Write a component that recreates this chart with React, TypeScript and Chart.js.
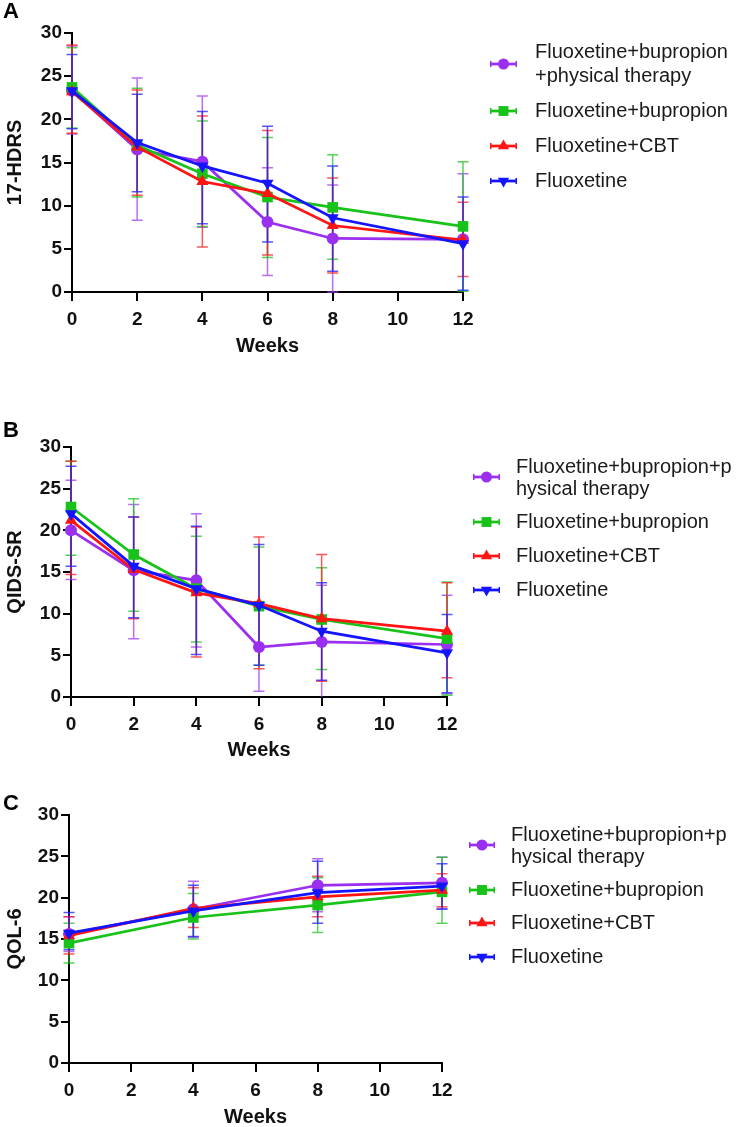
import React, { useEffect, useRef } from 'react';
import { Chart, registerables } from 'chart.js';

Chart.register(...registerables);

const FONT = 'Arial, "Liberation Sans", Helvetica, sans-serif';

// ---------- categories / labels ----------
const WEEKS_AB = [0, 2, 4, 6, 8, 12];
const WEEKS_C = [0, 4, 8, 12];
const GROUP_NAMES = ['Fluoxetine+bupropion+physical therapy', 'Fluoxetine+bupropion', 'Fluoxetine+CBT', 'Fluoxetine'];
const LEGEND_A = [['Fluoxetine+bupropion', '+physical therapy'], ['Fluoxetine+bupropion'], ['Fluoxetine+CBT'], ['Fluoxetine']];
const LEGEND_BC = [['Fluoxetine+bupropion+p', 'hysical therapy'], ['Fluoxetine+bupropion'], ['Fluoxetine+CBT'], ['Fluoxetine']];

// ---------- Panel A: 17-HDRS ----------
const A_PT_MEAN = [23.3, 16.5, 15.1, 8.1, 6.2, 6.1];
const A_PT_HI = [28.5, 24.8, 22.7, 14.4, 12.4, 13.7];
const A_PT_LO = [18.3, 8.3, 7.5, 1.9, 0, -1.5];
const A_BUP_MEAN = [23.7, 17.0, 13.7, 11.0, 9.8, 7.6];
const A_BUP_HI = [28.3, 23.6, 19.8, 17.9, 15.9, 15.1];
const A_BUP_LO = [19.0, 11.0, 7.6, 4.0, 3.8, 0.1];
const A_CBT_MEAN = [23.2, 16.8, 12.8, 11.4, 7.7, 6.0];
const A_CBT_HI = [28.6, 23.4, 20.4, 18.7, 13.2, 10.4];
const A_CBT_LO = [18.4, 11.2, 5.2, 4.3, 2.2, 1.8];
const A_FLX_MEAN = [23.3, 17.3, 14.6, 12.6, 8.6, 5.6];
const A_FLX_HI = [27.5, 22.9, 20.9, 19.2, 14.6, 11.0];
const A_FLX_LO = [18.9, 11.6, 7.9, 5.8, 2.4, 0.2];

// ---------- Panel B: QIDS-SR ----------
const B_PT_MEAN = [20.0, 15.2, 14.0, 6.0, 6.6, 6.3];
const B_PT_HI = [26.0, 23.1, 22.0, 11.3, 13.4, 12.2];
const B_PT_LO = [14.1, 7.0, 6.0, 0.7, -0.2, 0.4];
const B_BUP_MEAN = [22.8, 17.1, 13.0, 10.9, 9.3, 7.0];
const B_BUP_HI = [28.3, 23.8, 19.3, 18.0, 15.5, 13.8];
const B_BUP_LO = [17.0, 10.3, 6.6, 3.8, 3.3, 0.2];
const B_CBT_MEAN = [21.2, 15.3, 12.5, 11.2, 9.4, 7.9];
const B_CBT_HI = [28.3, 21.6, 20.4, 19.2, 17.1, 13.7];
const B_CBT_LO = [14.7, 9.4, 4.8, 3.4, 1.9, 2.3];
const B_FLX_MEAN = [22.0, 15.7, 13.0, 11.0, 7.9, 5.3];
const B_FLX_HI = [27.7, 21.6, 20.5, 18.3, 13.7, 9.9];
const B_FLX_LO = [15.7, 9.5, 5.1, 3.8, 2.0, 0.5];

// ---------- Panel C: QOL-6 ----------
const C_PT_MEAN = [15.6, 18.6, 21.5, 21.8];
const C_PT_HI = [17.7, 22.0, 24.7, 24.9];
const C_PT_LO = [13.5, 15.2, 18.3, 18.7];
const C_BUP_MEAN = [14.5, 17.6, 19.1, 20.7];
const C_BUP_HI = [16.9, 20.5, 22.4, 24.9];
const C_BUP_LO = [12.1, 15.0, 15.8, 16.9];
const C_CBT_MEAN = [15.4, 18.7, 20.1, 20.9];
const C_CBT_HI = [17.7, 21.2, 22.6, 22.9];
const C_CBT_LO = [13.2, 16.4, 17.7, 18.9];
const C_FLX_MEAN = [15.7, 18.4, 20.6, 21.4];
const C_FLX_HI = [18.2, 21.5, 24.4, 24.1];
const C_FLX_LO = [13.7, 15.3, 16.9, 18.6];

// ---------- styles ----------
const STYLES = [
  { color: '#9b2ff0', err: 'rgba(160,60,240,0.75)', style: 'circle', r: 6, rot: 0, order: 3 },
  { color: '#19c219', err: 'rgba(30,195,30,0.75)', style: 'rect', r: 7.5, rot: 0, order: 2 },
  { color: '#ff1414', err: 'rgba(255,30,30,0.75)', style: 'triangle', r: 7, rot: 0, order: 1 },
  { color: '#1414ff', err: 'rgba(30,30,255,0.75)', style: 'triangle', r: 7, rot: 180, order: 0 },
];

type Series = { mean: number[]; hi: number[]; lo: number[] };
type PanelCfg = {
  key: string;
  letter: string;
  letterY: number;
  top: number;
  height: number;
  yTitle: string;
  xs: number[];
  series: Series[];
  axisW: number;
  padTop: number;
  padRight: number;
  xH: number;
  legend: { mx1: number; mx2: number; tx: number; markerYs: number[]; lineYs: number[][]; labels: string[][] };
};

const PANELS: PanelCfg[] = [
  {
    key: 'A', letter: 'A', letterY: 18, top: 0, height: 356, yTitle: '17-HDRS', xs: WEEKS_AB,
    series: [
      { mean: A_PT_MEAN, hi: A_PT_HI, lo: A_PT_LO },
      { mean: A_BUP_MEAN, hi: A_BUP_HI, lo: A_BUP_LO },
      { mean: A_CBT_MEAN, hi: A_CBT_HI, lo: A_CBT_LO },
      { mean: A_FLX_MEAN, hi: A_FLX_HI, lo: A_FLX_LO },
    ],
    axisW: 72, padTop: 33, padRight: 737 - 463, xH: 64,
    legend: { mx1: 490, mx2: 517, tx: 535, markerYs: [64, 111, 146, 181], lineYs: [[52, 76], [111], [146], [181]], labels: LEGEND_A },
  },
  {
    key: 'B', letter: 'B', letterY: 437, top: 356, height: 404, yTitle: 'QIDS-SR', xs: WEEKS_AB,
    series: [
      { mean: B_PT_MEAN, hi: B_PT_HI, lo: B_PT_LO },
      { mean: B_BUP_MEAN, hi: B_BUP_HI, lo: B_BUP_LO },
      { mean: B_CBT_MEAN, hi: B_CBT_HI, lo: B_CBT_LO },
      { mean: B_FLX_MEAN, hi: B_FLX_HI, lo: B_FLX_LO },
    ],
    axisW: 71, padTop: 91, padRight: 737 - 447, xH: 63,
    legend: { mx1: 473, mx2: 500, tx: 516, markerYs: [477, 522, 556, 590], lineYs: [[467, 489], [522], [556], [590]], labels: LEGEND_BC },
  },
  {
    key: 'C', letter: 'C', letterY: 810, top: 760, height: 367, yTitle: 'QOL-6', xs: WEEKS_C,
    series: [
      { mean: C_PT_MEAN, hi: C_PT_HI, lo: C_PT_LO },
      { mean: C_BUP_MEAN, hi: C_BUP_HI, lo: C_BUP_LO },
      { mean: C_CBT_MEAN, hi: C_CBT_HI, lo: C_CBT_LO },
      { mean: C_FLX_MEAN, hi: C_FLX_HI, lo: C_FLX_LO },
    ],
    axisW: 69, padTop: 55, padRight: 737 - 442, xH: 64,
    legend: { mx1: 469, mx2: 495, tx: 511, markerYs: [845, 890, 923, 957], lineYs: [[835, 857], [890], [923], [957]], labels: LEGEND_BC },
  },
];

function drawMarker(ctx: CanvasRenderingContext2D, style: string, rot: number, x: number, y: number, r: number) {
  ctx.beginPath();
  if (style === 'circle') {
    ctx.arc(x, y, r, 0, Math.PI * 2);
  } else if (style === 'rect') {
    const s = r * Math.SQRT1_2;
    ctx.rect(x - s, y - s, 2 * s, 2 * s);
  } else {
    const dir = rot === 180 ? -1 : 1;
    const h = r * 1.5;
    const w = (r * Math.sqrt(3)) / 2;
    ctx.moveTo(x, y - dir * (2 / 3) * h);
    ctx.lineTo(x - w, y + dir * (1 / 3) * h);
    ctx.lineTo(x + w, y + dir * (1 / 3) * h);
    ctx.closePath();
  }
  ctx.fill();
}

function makeChart(canvas: HTMLCanvasElement, cfg: PanelCfg): Chart {
  const datasets: any[] = STYLES.map((st, i) => ({
    label: GROUP_NAMES[i],
    data: cfg.xs.map((x, j) => ({ x, y: cfg.series[i].mean[j] })),
    borderColor: st.color,
    backgroundColor: st.color,
    borderWidth: 2.75,
    pointRadius: st.r,
    pointHoverRadius: st.r,
    pointStyle: st.style,
    pointRotation: st.rot,
    pointBorderWidth: 0,
    order: st.order,
    clip: false,
    tension: 0,
  }));

  const panelPlugin = {
    id: 'panel' + cfg.key,
    beforeDatasetsDraw(chart: any) {
      const ctx: CanvasRenderingContext2D = chart.ctx;
      const area = chart.chartArea;
      const yS = chart.scales.y;
      ctx.save();
      ctx.lineWidth = 1.5;
      [0, 1, 2, 3].forEach((i) => {
        const meta = chart.getDatasetMeta(i);
        const s = cfg.series[i];
        ctx.strokeStyle = STYLES[i].err;
        meta.data.forEach((pt: any, j: number) => {
          const x = pt.x;
          const yHi = yS.getPixelForValue(s.hi[j]);
          const loClipped = s.lo[j] < 0;
          const yLo = Math.min(yS.getPixelForValue(Math.max(s.lo[j], 0)), area.bottom);
          ctx.beginPath();
          ctx.moveTo(x, yHi);
          ctx.lineTo(x, yLo);
          ctx.moveTo(x - 5.5, yHi);
          ctx.lineTo(x + 5.5, yHi);
          if (!loClipped) {
            ctx.moveTo(x - 5.5, yLo);
            ctx.lineTo(x + 5.5, yLo);
          }
          ctx.stroke();
        });
      });
      ctx.restore();
    },
    afterDraw(chart: any) {
      const ctx: CanvasRenderingContext2D = chart.ctx;
      const off = cfg.top;
      ctx.save();
      ctx.fillStyle = '#000';
      ctx.font = `bold 22px ${FONT}`;
      ctx.textBaseline = 'alphabetic';
      ctx.textAlign = 'left';
      ctx.fillText(cfg.letter, 3, cfg.letterY - off);
      const lg = cfg.legend;
      STYLES.forEach((st, i) => {
        const my = lg.markerYs[i] - off;
        ctx.strokeStyle = st.color;
        ctx.fillStyle = st.color;
        ctx.lineWidth = 2.75;
        ctx.beginPath();
        ctx.moveTo(lg.mx1, my);
        ctx.lineTo(lg.mx2, my);
        ctx.stroke();
        ctx.lineWidth = 1.5;
        ctx.beginPath();
        ctx.moveTo(lg.mx1 + 0.75, my - 3);
        ctx.lineTo(lg.mx1 + 0.75, my + 3);
        ctx.moveTo(lg.mx2 - 0.75, my - 3);
        ctx.lineTo(lg.mx2 - 0.75, my + 3);
        ctx.stroke();
        drawMarker(ctx, st.style, st.rot, (lg.mx1 + lg.mx2) / 2, my, st.style === 'circle' ? 5.5 : st.style === 'rect' ? 7 : 6.5);
        ctx.fillStyle = '#1a1a1a';
        ctx.font = `20px ${FONT}`;
        ctx.textBaseline = 'middle';
        lg.labels[i].forEach((line, k) => {
          ctx.fillText(line, lg.tx, lg.lineYs[i][k] - off);
        });
      });
      ctx.restore();
    },
  };

  return new Chart(canvas, {
    type: 'line',
    data: { datasets },
    plugins: [panelPlugin],
    options: {
      responsive: false,
      maintainAspectRatio: false,
      animation: false,
      events: [],
      layout: { padding: { left: 0, top: cfg.padTop, right: cfg.padRight, bottom: 0 } },
      plugins: { legend: { display: false }, tooltip: { enabled: false }, title: { display: false } },
      scales: {
        x: {
          type: 'linear',
          min: 0,
          max: 12,
          ticks: {
            stepSize: 2,
            color: '#111',
            font: { family: FONT, size: 19, weight: 'bold' },
            padding: 7,
            maxRotation: 0,
            autoSkip: false,
          },
          grid: { display: true, drawOnChartArea: false, drawTicks: true, tickLength: 9, color: '#000', lineWidth: 2 },
          border: { display: true, color: '#000', width: 2 },
          title: {
            display: true,
            text: 'Weeks',
            color: '#111',
            font: { family: FONT, size: 20, weight: 'bold', lineHeight: 1 },
            padding: { top: 0, bottom: 0 },
          },
          afterFit: (s: any) => {
            s.height = cfg.xH;
          },
        },
        y: {
          type: 'linear',
          min: 0,
          max: 30,
          ticks: {
            stepSize: 5,
            color: '#111',
            font: { family: FONT, size: 19, weight: 'bold' },
            padding: 2,
          },
          grid: { display: true, drawOnChartArea: false, drawTicks: true, tickLength: 8, color: '#000', lineWidth: 2 },
          border: { display: true, color: '#000', width: 2 },
          title: {
            display: true,
            text: cfg.yTitle,
            color: '#111',
            font: { family: FONT, size: 20, weight: 'bold', lineHeight: 1.2 },
            padding: { top: 3, bottom: 0 },
          },
          afterFit: (s: any) => {
            s.width = cfg.axisW;
          },
        },
      },
    } as any,
  });
}

export default function App() {
  const refs = useRef<(HTMLCanvasElement | null)[]>([]);

  useEffect(() => {
    const charts: Chart[] = [];
    PANELS.forEach((p, i) => {
      const c = refs.current[i];
      if (c) charts.push(makeChart(c, p));
    });
    return () => {
      charts.forEach((ch) => ch.destroy());
    };
  }, []);

  return (
    <div style={{ position: 'absolute', left: 0, top: 0, width: 737, height: 1127, overflow: 'hidden', background: '#fff' }}>
      {PANELS.map((p, i) => (
        <canvas
          key={p.key}
          ref={(el) => {
            refs.current[i] = el;
          }}
          width={737}
          height={p.height}
          style={{ position: 'absolute', left: 0, top: p.top, width: 737, height: p.height }}
        />
      ))}
    </div>
  );
}
